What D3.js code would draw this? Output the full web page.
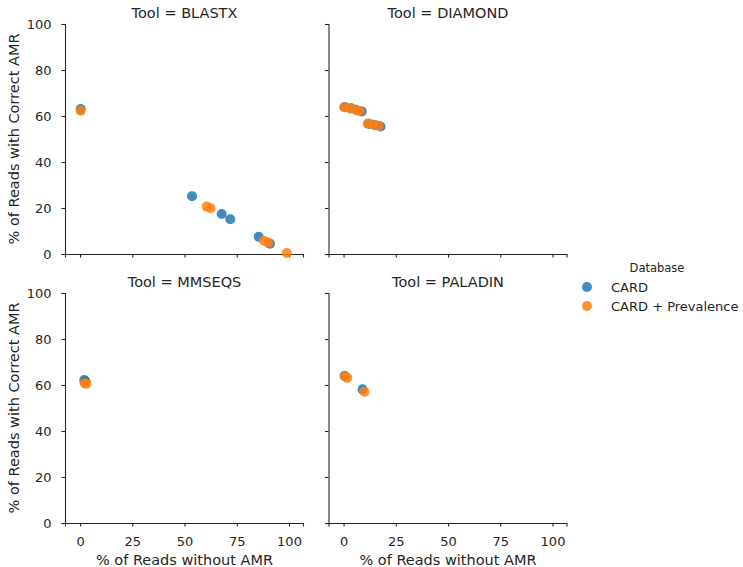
<!DOCTYPE html>
<html><head><meta charset="utf-8">
<script src="https://cdn.jsdelivr.net/npm/d3@7"></script>
<style>
body{margin:0;background:#fff;}
text{font-family:"DejaVu Sans",sans-serif;fill:#262626;}
</style></head><body>
<svg id="chart" width="743" height="567"></svg>
<script>
const tools = ["BLASTX","DIAMOND","MMSEQS","PALADIN"];
const databases = ["CARD","CARD + Prevalence"];
const colors = ["#1f77b4","#ff7f0e"];
const xTicks = [0,25,50,75,100];
const yTicks = [0,20,40,60,80,100];

// [x = % reads without AMR, y = % reads with correct AMR]
const blastxCard = [[0.3,63.0],[53.6,25.1],[67.8,17.4],[71.9,15.1],[85.5,7.5],[90.9,4.5]];
const blastxPrev = [[0.3,62.3],[60.6,20.6],[62.5,19.9],[88.0,5.8],[90.1,4.9],[98.9,0.4]];
const diamondCard = [[0.6,63.9],[3.6,63.4],[6.2,62.6],[8.7,62.0],[12.2,56.5],[15.2,56.0],[17.7,55.4]];
const diamondPrev = [[0.3,63.8],[3.0,63.3],[5.6,62.8],[7.8,62.2],[11.6,56.7],[14.2,56.3],[16.8,55.8]];
const mmseqsCard = [[2.0,62.2],[2.6,61.6]];
const mmseqsPrev = [[2.2,60.8],[3.0,60.5]];
const paladinCard = [[0.5,64.0],[9.1,58.1]];
const paladinPrev = [[0.6,63.8],[1.8,63.1],[10.0,57.1]];

const seriesByTool = {
  BLASTX:[blastxCard,blastxPrev],
  DIAMOND:[diamondCard,diamondPrev],
  MMSEQS:[mmseqsCard,mmseqsPrev],
  PALADIN:[paladinCard,paladinPrev]
};

const svg = d3.select("#chart");
const panelW = 238, panelH = 230;
const lefts = [65, 328.5], tops = [24, 293];

tools.forEach((tool,i)=>{
  const col = i%2, row = Math.floor(i/2);
  const g = svg.append("g").attr("transform",`translate(${lefts[col]},${tops[row]})`);
  const x = d3.scaleLinear().domain([-7.2,106.7]).range([0,panelW]);
  const y = d3.scaleLinear().domain([0,100]).range([panelH,0]);

  const xAxis = d3.axisBottom(x).tickValues(xTicks).tickSize(3.5).tickPadding(10.5);
  if(row===0) xAxis.tickFormat("");
  const yAxis = d3.axisLeft(y).tickValues(yTicks).tickSize(3.5).tickPadding(10);
  if(col===1) yAxis.tickFormat("");

  const gx = g.append("g").attr("transform",`translate(0,${panelH})`).call(xAxis);
  const gy = g.append("g").call(yAxis);
  [gx,gy].forEach(a=>{
    a.selectAll("path").attr("stroke","#262626").attr("stroke-width",1.1);
    a.selectAll("line").attr("stroke","#262626").attr("stroke-width",1.1);
    a.selectAll("text").style("font-size","13px").attr("fill","#262626");
  });

  seriesByTool[tool].forEach((pts,k)=>{
    g.append("g").selectAll("circle").data(pts).join("circle")
      .attr("cx",d=>x(d[0])).attr("cy",d=>y(d[1])).attr("r",5)
      .attr("fill",colors[k]).attr("fill-opacity",0.85);
  });

  g.append("text").attr("x",x(50)).attr("y",-6)
    .attr("text-anchor","middle").style("font-size","14.5px").text(`Tool = ${tool}`);

  if(row===1){
    g.append("text").attr("x",x(50)).attr("y",panelH+42)
      .attr("text-anchor","middle").style("font-size","14.5px").text("% of Reads without AMR");
  }
  if(col===0){
    g.append("text").attr("transform",`translate(${-46},${panelH/2}) rotate(-90)`)
      .attr("text-anchor","middle").style("font-size","14.5px").text("% of Reads with Correct AMR");
  }
});

const leg = svg.append("g");
leg.append("text").attr("x",657).attr("y",272).attr("text-anchor","middle")
  .style("font-size","11.5px").text("Database");
databases.forEach((d,k)=>{
  leg.append("circle").attr("cx",587).attr("cy",287+k*19).attr("r",5)
    .attr("fill",colors[k]).attr("fill-opacity",0.85);
  leg.append("text").attr("x",611).attr("y",292+k*19).style("font-size","13px").text(d);
});
</script>
</body></html>
